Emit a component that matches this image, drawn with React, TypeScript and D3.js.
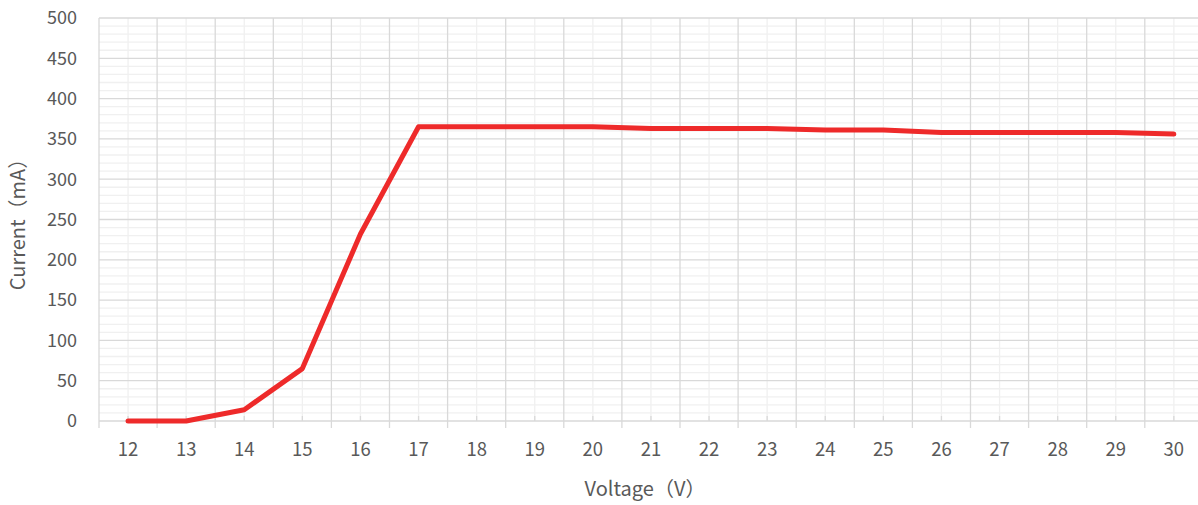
import React from 'react';
import * as d3 from 'd3';

// voltage steps (V) and measured current (mA)
const voltages = [12, 13, 14, 15, 16, 17, 18, 19, 20, 21, 22, 23, 24, 25, 26, 27, 28, 29, 30];
const currents = [0, 0, 14, 65, 232, 365, 365, 365, 365, 363, 363, 363, 361, 361, 358, 358, 358, 358, 356];
const yTicks = [0, 50, 100, 150, 200, 250, 300, 350, 400, 450, 500];

const width = 1198;
const height = 505;
const left = 99;
const top = 18;
const bottom = 421;
const step = 58.1;
const font = '"Noto Sans CJK SC", "Open Sans", sans-serif';

const App: React.FC = () => {
  const x = d3.scaleBand<number>()
    .domain(voltages)
    .range([left, left + step * voltages.length]);
  const y = d3.scaleLinear().domain([0, 500]).range([bottom, top]);
  const cx = (v: number) => (x(v) ?? 0) + x.bandwidth() / 2;

  const minorY = d3.range(0, 501, 10).filter(v => v % 50 !== 0);
  const bounds = d3.range(voltages.length + 1).map(i => left + i * x.step());

  const line = d3.line<number>()
    .x((d, i) => cx(voltages[i]))
    .y(d => y(d));

  return (
    <svg width={width} height={height} style={{ position: 'absolute', left: 0, top: 0, background: '#fff' }}>
      {/* minor grid */}
      {minorY.map(v => (
        <line key={'my' + v} x1={left} x2={width + 10} y1={y(v)} y2={y(v)} stroke="#f0f0f0" strokeWidth={1.3} />
      ))}
      {voltages.map(v => (
        <line key={'mx' + v} x1={cx(v)} x2={cx(v)} y1={top} y2={bottom} stroke="#f0f0f0" strokeWidth={1.3} />
      ))}
      {/* major grid */}
      {yTicks.map(v => (
        <line key={'y' + v} x1={left} x2={width + 10} y1={y(v)} y2={y(v)} stroke="#d9d9d9" strokeWidth={1.3} />
      ))}
      {bounds.map((b, i) => (
        <line key={'x' + i} x1={b} x2={b} y1={top} y2={bottom + 7} stroke="#d9d9d9" strokeWidth={1.3} />
      ))}
      {voltages.map(v => (
        <line key={'t' + v} x1={cx(v)} x2={cx(v)} y1={bottom - 5} y2={bottom} stroke="#d9d9d9" strokeWidth={1.3} />
      ))}
      {/* y labels */}
      {yTicks.map(v => (
        <text key={'yl' + v} x={77} y={y(v)} dy="0.35em" textAnchor="end" fontFamily={font} fontSize={18} fill="#595959">
          {v}
        </text>
      ))}
      {/* x labels */}
      {voltages.map(v => (
        <text key={'xl' + v} x={cx(v)} y={450} dy="0.35em" textAnchor="middle" fontFamily={font} fontSize={18.5} fill="#595959">
          {v}
        </text>
      ))}
      <path d={line(currents) ?? ''} fill="none" stroke="#ee2a2a" strokeWidth={5} strokeLinejoin="round" strokeLinecap="round" />
      <text transform={`translate(18,${(top + bottom) / 2}) rotate(-90)`} dy="0.35em" textAnchor="middle" fontFamily={font} fontSize={20} fill="#595959">
        Current（mA）
      </text>
      <text x={645} y={489} dy="0.35em" textAnchor="middle" fontFamily={font} fontSize={20} fill="#595959">
        Voltage（V）
      </text>
    </svg>
  );
};

export default App;
